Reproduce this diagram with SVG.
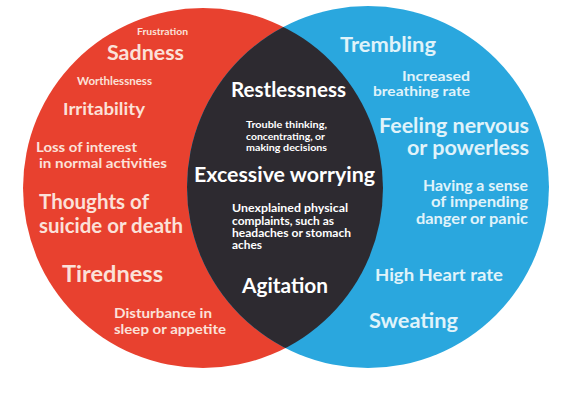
<svg xmlns="http://www.w3.org/2000/svg" width="564" height="400" viewBox="0 0 564 400">
<defs>
<clipPath id="redClip"><circle cx="203" cy="188" r="180"/></clipPath>
</defs>
<style>
text{font-family:Lato,"Open Sans","Liberation Sans",sans-serif;font-weight:bold}
.r{fill:#fbe1d9}
.b{fill:#e0f3fa}
.d{fill:#ffffff}
.e{text-anchor:end}
</style>
<rect width="564" height="400" fill="#ffffff"/>
<g id="sets">
<circle id="red" cx="203" cy="188" r="180" fill="#e8412f"/>
<circle id="blue" cx="368" cy="187" r="181" fill="#2aa7de"/>
<circle id="overlap" cx="368" cy="187" r="181" fill="#2d2a30" clip-path="url(#redClip)"/>
</g>
<g id="red-labels">
<text class="r" x="137" y="35" font-size="10.2" textLength="51" lengthAdjust="spacingAndGlyphs">Frustration</text>
<text class="r" x="107" y="60" font-size="20.5" textLength="77" lengthAdjust="spacingAndGlyphs">Sadness</text>
<text class="r" x="77" y="85" font-size="10.8" textLength="75" lengthAdjust="spacingAndGlyphs">Worthlessness</text>
<text class="r" x="63" y="115" font-size="17.5" textLength="82" lengthAdjust="spacingAndGlyphs">Irritability</text>
<text class="r" x="36" y="152" font-size="13.5" textLength="101" lengthAdjust="spacingAndGlyphs">Loss of interest</text>
<text class="r" x="39" y="168" font-size="13.5" textLength="128" lengthAdjust="spacingAndGlyphs">in normal activities</text>
<text class="r" x="39" y="209" font-size="20" textLength="110" lengthAdjust="spacingAndGlyphs">Thoughts of</text>
<text class="r" x="39" y="233" font-size="20" textLength="144" lengthAdjust="spacingAndGlyphs">suicide or death</text>
<text class="r" x="62" y="282" font-size="22" textLength="101" lengthAdjust="spacingAndGlyphs">Tiredness</text>
<text class="r" x="114" y="318" font-size="13.5" textLength="98" lengthAdjust="spacingAndGlyphs">Disturbance in</text>
<text class="r" x="114" y="334" font-size="13.5" textLength="112" lengthAdjust="spacingAndGlyphs">sleep or appetite</text>
</g>
<g id="overlap-labels">
<text class="d" x="231" y="97" font-size="20" textLength="115" lengthAdjust="spacingAndGlyphs">Restlessness</text>
<text class="d" x="246" y="128" font-size="10" textLength="81" lengthAdjust="spacingAndGlyphs">Trouble thinking,</text>
<text class="d" x="246" y="139.5" font-size="10" textLength="79" lengthAdjust="spacingAndGlyphs">concentrating, or</text>
<text class="d" x="246" y="151" font-size="10" textLength="81" lengthAdjust="spacingAndGlyphs">making decisions</text>
<text class="d" x="194" y="182" font-size="20.5" textLength="181" lengthAdjust="spacingAndGlyphs">Excessive worrying</text>
<text class="d" x="232" y="212" font-size="10.8" textLength="116" lengthAdjust="spacingAndGlyphs">Unexplained physical</text>
<text class="d" x="232" y="224.5" font-size="10.8" textLength="102" lengthAdjust="spacingAndGlyphs">complaints, such as</text>
<text class="d" x="232" y="237" font-size="10.8" textLength="119" lengthAdjust="spacingAndGlyphs">headaches or stomach</text>
<text class="d" x="232" y="249" font-size="10.8" textLength="30" lengthAdjust="spacingAndGlyphs">aches</text>
<text class="d" x="242" y="293" font-size="20" textLength="86" lengthAdjust="spacingAndGlyphs">Agitation</text>
</g>
<g id="blue-labels">
<text class="b" x="340" y="52" font-size="20.5" textLength="96" lengthAdjust="spacingAndGlyphs">Trembling</text>
<text class="b e" x="470" y="81" font-size="13.5" textLength="68" lengthAdjust="spacingAndGlyphs">Increased</text>
<text class="b e" x="470" y="95.5" font-size="13.5" textLength="97" lengthAdjust="spacingAndGlyphs">breathing rate</text>
<text class="b e" x="529" y="133" font-size="20.5" textLength="150" lengthAdjust="spacingAndGlyphs">Feeling nervous</text>
<text class="b e" x="529" y="155" font-size="20.5" textLength="122" lengthAdjust="spacingAndGlyphs">or powerless</text>
<text class="b e" x="528" y="191" font-size="14.5" textLength="105" lengthAdjust="spacingAndGlyphs">Having a sense</text>
<text class="b e" x="528" y="207" font-size="14.5" textLength="97" lengthAdjust="spacingAndGlyphs">of impending</text>
<text class="b e" x="528" y="224" font-size="14.5" textLength="112" lengthAdjust="spacingAndGlyphs">danger or panic</text>
<text class="b" x="375" y="281" font-size="17.5" textLength="128" lengthAdjust="spacingAndGlyphs">High Heart rate</text>
<text class="b" x="369" y="328" font-size="20.5" textLength="89" lengthAdjust="spacingAndGlyphs">Sweating</text>
</g>
</svg>
